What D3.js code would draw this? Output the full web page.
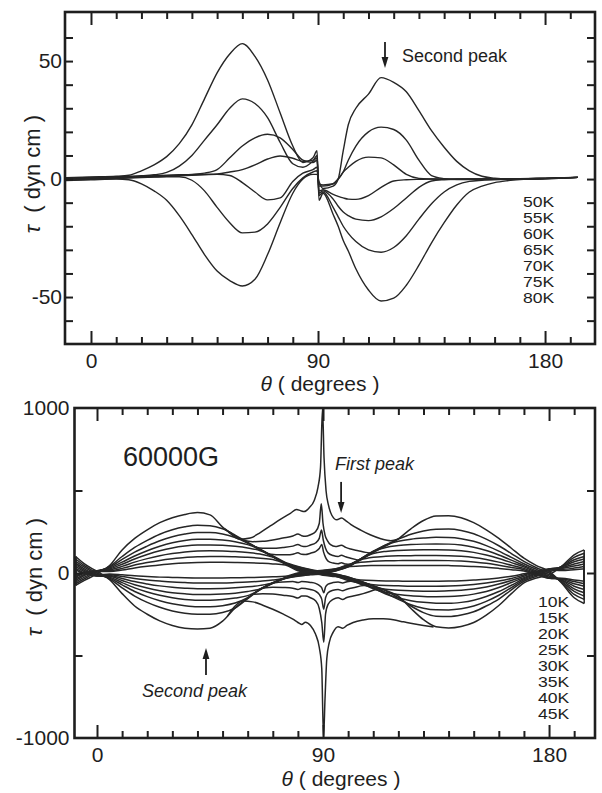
<!DOCTYPE html>
<html>
<head>
<meta charset="utf-8">
<script src="https://cdn.jsdelivr.net/npm/d3@7"></script>
<style>
  html, body { margin: 0; padding: 0; background: #ffffff; }
  svg { display: block; }
</style>
</head>
<body>
<svg id="chart" width="602" height="793"></svg>
<script>
// ================= DATA =================
// ---- top panel (torque curves, 50K-80K) ----
const topTemps = ["50K", "55K", "60K", "65K", "70K", "75K", "80K"];
const topTheta = [-10, 0, 10, 15, 20, 25, 30, 35, 40, 45, 50, 55, 60, 65, 70, 75, 80, 84, 88, 89.6,
                  90.4, 92, 96, 98, 100, 102, 105, 110, 115, 120, 125, 130, 135, 140, 145, 150, 155, 160, 165, 170,
                  180, 193];
const topTau = [
  [0.6, 0.9, 1.2, 1.6, 3.5, 6, 9.5, 15, 23, 34, 45, 53, 57.4, 52, 42, 28, 14, 7, 9, 12,
   -9, -6, -15, -20, -26, -30.5, -38, -47, -51.7, -50.5, -45, -36.5, -27, -18.5, -11, -5.5, -3, -1.5, -0.7, -0.2, 0.3, 0.7],
  [0.4, 0.7, 1.0, 1.2, 1.4, 1.8, 2.8, 5.5, 10, 16.5, 23, 30, 34, 32, 26, 15.5, 6.5, 5, 7.5, 9,
   -7, -5.5, -12, -16, -20, -23, -26.5, -30, -31, -29, -24, -17, -10.5, -5.5, -2.5, -1, -0.5, -0.2, 0, 0.1, 0.3, 0.7],
  [0.2, 0.5, 0.8, 1.0, 1.2, 1.4, 1.6, 1.8, 2.0, 2.5, 4, 9, 14, 17.5, 19, 17.5, 12.5, 8, 7, 8,
   -6, -5, -8.5, -11.5, -14, -15.5, -17, -17.6, -16, -12.5, -8, -3.5, -0.8, -0.3, -0.1, 0, 0, 0, 0.1, 0.2, 0.4, 0.7],
  [0, 0.3, 0.6, 0.8, 1.0, 1.2, 1.4, 1.6, 1.8, 2.0, 2.2, 3, 4, 6, 8.5, 9.8, 8.8, 7.5, 8, 10,
   -5, -4.5, -6.5, -7.3, -8, -8.5, -8.6, -7, -3.5, -0.8, -0.3, -0.1, 0, 0, 0, 0, 0, 0, 0, 0.1, 0.3, 0.7],
  [-0.2, 0.1, 0.4, 0.6, 0.8, 1.0, 1.2, 1.4, 1.6, 1.8, 2.0, 1.5, -1.5, -5.5, -8.8, -8, -1, 2.5, 4, 5,
   -3, -3, -2, 0, 3, 5, 7.5, 9.3, 9, 6, 2, 0.3, 0, -0.1, -0.1, -0.1, -0.1, -0.1, -0.1, 0, 0.2, 0.7],
  [-0.4, -0.1, 0.2, 0.4, 0.6, 0.8, 1.0, 1.0, -0.5, -5, -12, -18.5, -22.8, -22.5, -19, -12, -4, 0.5, 3, 3.5,
   -2, -2.5, -2, 0, 3, 8, 14, 20, 22, 21, 16.5, 8, 1.5, 0.2, -0.2, -0.2, -0.2, -0.2, -0.2, -0.1, 0.1, 0.7],
  [-0.6, -0.3, 0, -0.3, -2, -5, -9, -15.5, -23.5, -32, -39, -43, -45.3, -42.5, -32, -18.5, -6, 0, 2, 2,
   -1, -4, -3, 0, 12, 23, 30, 36, 43, 41, 37, 29, 20.5, 13.5, 7.5, 3.5, 1.2, 0.4, 0, -0.1, 0.1, 0.7]
];

// ---- bottom panel (60000G, 10K-45K) ----
const bottomTemps = ["10K", "15K", "20K", "25K", "30K", "35K", "40K", "45K"];
const bottomTheta = [-8.5, -5, 0, 5, 10, 15, 20, 25, 30, 35, 40, 45, 50, 55, 60, 65, 70, 75, 80, 85,
                     90, 95, 100, 105, 110, 115, 120, 125, 130, 135, 140, 145, 150, 155, 160, 165, 170, 175, 180, 185,
                     190, 194];
// sweep with the positive lobe on the left
const bottomBackward = [
  [-75, -45, -5, 45, 140, 210, 262, 305, 335, 355, 366, 352, 278, 225, 183, 143, 104, 64, 40, 22,
   8, -6, -24, -50, -77, -105, -140, -215, -283, -326, -333, -324, -300, -255, -197, -125, -60, -30, -10, 40, 110, 140],
  [-65, -35, 5, 40, 100, 155, 198, 235, 262, 280, 290, 287, 268, 230, 185, 143, 101, 61, 36, 19,
   5, -8, -26, -51, -78, -108, -150, -200, -240, -262, -264, -255, -235, -200, -158, -102, -50, -20, 5, 40, 95, 120],
  [-55, -25, 10, 35, 82, 127, 163, 195, 220, 236, 245, 245, 236, 215, 182, 141, 99, 58, 32, 16,
   2, -10, -28, -52, -80, -120, -160, -192, -213, -223, -224, -217, -200, -172, -135, -88, -42, -12, 15, 38, 80, 100],
  [-45, -15, 12, 30, 66, 103, 135, 162, 183, 197, 204, 205, 200, 190, 172, 142, 99, 56, 29, 13,
   -1, -12, -30, -55, -90, -127, -152, -168, -178, -183, -184, -178, -165, -142, -112, -74, -35, -5, 22, 36, 68, 85],
  [-35, -8, 14, 25, 53, 85, 112, 135, 152, 163, 169, 170, 168, 162, 152, 135, 100, 57, 26, 10,
   -4, -14, -32, -60, -95, -118, -130, -138, -142, -144, -143, -138, -128, -112, -88, -58, -28, 0, 25, 32, 55, 70],
  [-25, -2, 14, 20, 40, 66, 87, 105, 118, 128, 133, 135, 134, 130, 124, 115, 96, 55, 22, 7,
   -7, -16, -38, -68, -88, -98, -104, -108, -110, -110, -108, -104, -97, -85, -67, -45, -20, 5, 25, 28, 42, 55],
  [-18, 3, 12, 14, 28, 48, 63, 76, 86, 94, 98, 100, 100, 98, 95, 90, 82, 56, 18, 4,
   -10, -20, -45, -62, -71, -76, -78, -80, -80, -80, -79, -76, -70, -61, -49, -33, -12, 8, 22, 22, 30, 40],
  [-10, 5, 10, 9, 18, 31, 41, 49, 56, 61, 64, 65, 65, 64, 62, 59, 55, 48, 14, 1,
   -13, -22, -35, -42, -46, -48, -49, -50, -50, -50, -49, -47, -43, -38, -30, -20, -5, 10, 18, 15, 20, 25]
];
// sweep with the negative lobe on the left
const bottomForward = [
  [100, 55, 10, -40, -125, -200, -250, -290, -318, -335, -340, -335, -292, -212, -152, -100, -62, -34, -20, -11,
   -4, 12, 37, 80, 124, 165, 207, 268, 318, 345, 347, 335, 305, 262, 210, 150, 90, 45, 10, -60, -150, -185],
  [85, 45, 0, -35, -90, -140, -178, -208, -230, -244, -250, -250, -240, -212, -155, -98, -60, -32, -17, -8,
   -1, 14, 39, 84, 128, 170, 205, 235, 255, 265, 266, 258, 238, 205, 165, 118, 70, 32, 0, -55, -130, -160],
  [70, 35, -8, -30, -72, -112, -143, -168, -187, -199, -205, -205, -198, -182, -150, -97, -58, -30, -14, -5,
   2, 16, 41, 86, 132, 170, 192, 205, 212, 216, 215, 208, 192, 166, 133, 95, 56, 22, -10, -50, -112, -140],
  [60, 25, -14, -25, -58, -90, -115, -135, -150, -160, -165, -165, -161, -152, -137, -100, -60, -29, -12, -2,
   5, 18, 43, 86, 130, 155, 166, 172, 175, 176, 175, 169, 156, 136, 109, 78, 45, 12, -18, -45, -96, -120],
  [50, 16, -18, -20, -45, -71, -91, -107, -119, -126, -130, -130, -128, -122, -112, -96, -62, -28, -9, 1,
   8, 20, 45, 86, 118, 131, 137, 140, 141, 141, 140, 135, 125, 109, 88, 63, 37, 5, -25, -42, -80, -100],
  [40, 8, -18, -15, -33, -52, -66, -78, -87, -92, -95, -95, -94, -90, -84, -75, -60, -31, -6, 4,
   11, 22, 48, 80, 95, 101, 104, 105, 106, 106, 105, 101, 94, 82, 66, 47, 28, -2, -30, -38, -65, -80],
  [30, 0, -15, -10, -21, -33, -42, -49, -55, -58, -60, -60, -60, -58, -55, -50, -43, -30, -3, 7,
   14, 24, 50, 65, 71, 74, 75, 76, 76, 76, 75, 72, 67, 59, 47, 34, 20, -8, -32, -35, -52, -65],
  [20, -5, -12, -6, -11, -17, -21, -25, -27, -29, -30, -30, -30, -29, -28, -26, -23, -19, 0, 10,
   17, 26, 38, 43, 45, 46, 46, 46, 46, 46, 45, 43, 40, 35, 28, 20, 12, -12, -30, -32, -42, -50]
];
// central branches around the hard axis (spikes at 90 deg, first peak)
const centerTheta = [
  [51, 54, 57, 61, 65, 69, 73, 77, 79.5, 81, 82.5, 84.5, 86.5, 88, 89, 89.8, 90.4, 91.2, 92.2, 93.5, 95.5, 97.4, 99, 101, 105, 109, 113, 117, 120],
  [58, 62, 66, 70, 74, 78, 80, 81.5, 83, 85, 87, 88.5, 89.3, 90, 90.8, 91.8, 93, 95, 97.3, 99, 101, 104, 107, 109],
  [63, 66, 70, 74, 78, 80, 81.5, 83, 85, 87, 88.5, 89.4, 90.1, 91, 92, 94, 96, 97.3, 99, 101, 104],
  [68, 72, 76, 78, 80, 81.5, 83, 85, 87, 88.5, 89.5, 90.2, 91, 92, 94, 96, 97.3, 99, 101],
  [70, 74, 78, 80, 81.5, 83, 85, 87, 88.5, 89.5, 90.3, 91, 92, 94, 96, 97.8, 99.5, 102, 104],
  [66, 70, 74, 78, 80, 81.5, 83, 85, 87, 88.5, 89.5, 90.3, 91, 92, 94, 96, 97.8, 99.5, 102, 105, 108],
  [62, 66, 70, 74, 78, 80, 81.5, 83, 85, 87, 88.5, 89.5, 90.3, 91, 92, 94, 96, 97.8, 99.5, 102, 106, 110, 112],
  [52, 55, 58, 62, 66, 70, 74, 78, 80, 81.5, 83, 85, 87, 88.5, 89.5, 90.2, 90.8, 91.5, 92.5, 94, 96, 97.8, 99.5, 102, 106, 110, 114, 118, 122, 126, 130, 134]
];
const centerTau = [
  [268, 228, 205, 212, 245, 285, 325, 362, 385, 378, 372, 395, 440, 520, 640, 1000, 700, 500, 410, 350, 322, 333, 318, 295, 260, 230, 208, 196, 207],
  [200, 190, 192, 200, 212, 224, 236, 226, 222, 232, 250, 300, 420, 300, 230, 195, 172, 160, 168, 155, 145, 135, 125, 120],
  [158, 150, 150, 155, 163, 173, 163, 160, 170, 182, 210, 260, 200, 150, 122, 106, 100, 108, 98, 90, 78],
  [117, 110, 110, 114, 122, 113, 112, 120, 130, 148, 172, 128, 95, 72, 60, 56, 62, 54, 52],
  [-60, -54, -52, -58, -52, -53, -57, -63, -75, -90, -120, -85, -68, -58, -55, -60, -53, -48, -48],
  [-92, -86, -88, -92, -100, -92, -94, -100, -110, -130, -160, -220, -150, -120, -105, -100, -107, -98, -90, -78, -72],
  [-130, -125, -128, -135, -142, -152, -140, -140, -150, -168, -215, -300, -420, -250, -190, -160, -150, -160, -148, -140, -125, -105, -95],
  [-260, -200, -170, -175, -195, -220, -248, -280, -300, -312, -298, -318, -370, -450, -580, -1000, -760, -520, -420, -360, -325, -335, -318, -300, -285, -278, -278, -284, -296, -308, -318, -327]
];

// ---- axes ----
const xTicks = [0, 10, 20, 30, 40, 50, 60, 70, 80, 90, 100, 110, 120, 130, 140, 150, 160, 170, 180, 190];
const xLabels = [0, 90, 180];
const topYTicks = [-60, -50, -40, -30, -20, -10, 0, 10, 20, 30, 40, 50, 60];
const topYLabels = [-50, 0, 50];
const bottomYTicks = [-500, 0, 500];
const bottomYLabels = [-1000, 0, 1000];

// ================= DRAWING =================
const svg = d3.select("#chart");
const FONT = '"Liberation Sans", Arial, Helvetica, sans-serif';
const INK = "#1e1e1e";
const LINE = "#262626";

svg.append("rect").attr("width", 602).attr("height", 793).attr("fill", "#ffffff");

function makePanel(id, box, xDomain, yDomain) {
  const x = d3.scaleLinear().domain(xDomain).range([box.left, box.right]);
  const y = d3.scaleLinear().domain(yDomain).range([box.bottom, box.top]);
  const g = svg.append("g").attr("id", id);
  g.append("clipPath").attr("id", id + "-clip").append("rect")
    .attr("x", box.left).attr("y", box.top)
    .attr("width", box.right - box.left).attr("height", box.bottom - box.top);
  const plot = g.append("g").attr("clip-path", `url(#${id}-clip)`);
  return { x, y, g, plot, box };
}

function styleAxis(sel, size) {
  sel.select(".domain").remove();
  sel.selectAll(".tick line").attr("stroke", INK).attr("stroke-width", 2);
  sel.attr("font-family", FONT).attr("font-size", size);
  sel.selectAll(".tick text").attr("fill", INK);
}

function drawAxes(p, yTicks, yLabels, opts) {
  const { x, y, g, box } = p;
  const minorX = xTicks.filter(v => !xLabels.includes(v));
  const fmt = d => String(d);
  g.append("g").attr("transform", `translate(0,${box.bottom})`)
    .call(d3.axisBottom(x).tickValues(minorX).tickSize(-7).tickFormat(""))
    .call(s => styleAxis(s, opts.size));
  g.append("g").attr("transform", `translate(0,${box.bottom})`)
    .call(d3.axisBottom(x).tickValues(xLabels).tickSize(-13).tickPadding(opts.xPad).tickFormat(fmt))
    .call(s => styleAxis(s, opts.size));
  g.append("g").attr("transform", `translate(0,${box.top})`)
    .call(d3.axisTop(x).tickValues(minorX).tickSize(-7).tickFormat(""))
    .call(s => styleAxis(s, opts.size));
  g.append("g").attr("transform", `translate(0,${box.top})`)
    .call(d3.axisTop(x).tickValues(xLabels).tickSize(-13).tickFormat(""))
    .call(s => styleAxis(s, opts.size));
  g.append("g").attr("transform", `translate(${box.left},0)`)
    .call(d3.axisLeft(y).tickValues(yTicks).tickSize(-8).tickFormat(""))
    .call(s => styleAxis(s, opts.size));
  g.append("g").attr("transform", `translate(${box.left},0)`)
    .call(d3.axisLeft(y).tickValues(yLabels).tickSize(0).tickPadding(opts.yPad).tickFormat(fmt))
    .call(s => styleAxis(s, opts.size));
  g.append("g").attr("transform", `translate(${box.right},0)`)
    .call(d3.axisRight(y).tickValues(yTicks).tickSize(-8).tickFormat(""))
    .call(s => styleAxis(s, opts.size));
  g.append("rect")
    .attr("x", box.left).attr("y", box.top)
    .attr("width", box.right - box.left).attr("height", box.bottom - box.top)
    .attr("fill", "none").attr("stroke", INK).attr("stroke-width", 2.6);
}

function xTitle(g, cx, baseline) {
  const t = g.append("text").attr("x", cx).attr("y", baseline)
    .attr("text-anchor", "middle").attr("font-family", FONT).attr("font-size", 21).attr("fill", INK)
    .style("white-space", "pre");
  t.append("tspan").attr("font-style", "italic").text("θ");
  t.append("tspan").text(" ( degrees )");
}
function yTitle(g, bx, cy) {
  const t = g.append("text").attr("transform", `translate(${bx},${cy}) rotate(-90)`)
    .attr("text-anchor", "middle").attr("font-family", FONT).attr("font-size", 22).attr("fill", INK)
    .style("white-space", "pre");
  t.append("tspan").attr("font-style", "italic").text("τ");
  t.append("tspan").text("  ( dyn cm )");
}
function arrow(g, x, yTail, yTip) {
  const dir = Math.sign(yTip - yTail);
  const headLen = 11, headW = 3.4;
  g.append("line").attr("x1", x).attr("x2", x).attr("y1", yTail).attr("y2", yTip - dir * headLen * 0.7)
    .attr("stroke", INK).attr("stroke-width", 1.8);
  g.append("path")
    .attr("d", `M${x},${yTip} L${x - headW},${yTip - dir * headLen} L${x + headW},${yTip - dir * headLen} Z`)
    .attr("fill", INK);
}
// legend: one small text per label, slightly condensed vertically so rows don't collide
function legend(g, x, y0, step, labels) {
  const lg = g.append("g");
  lg.selectAll("text").data(labels).join("text")
    .attr("transform", (d, i) => `translate(${x},${y0 + i * step}) scale(1.1,0.86)`)
    .attr("dy", "0.36em")
    .attr("font-family", FONT).attr("font-size", 16).attr("fill", INK)
    .text(d => d);
}

// ---------- TOP PANEL ----------
const topP = makePanel("top", { left: 65, right: 595, top: 12, bottom: 344 }, [-10.3, 199.8], [-69.9, 70.8]);
const topLine = d3.line().x(d => topP.x(d[0])).y(d => topP.y(d[1])).curve(d3.curveMonotoneX);
topP.plot.selectAll("path.curve").data(topTau).join("path").attr("class", "curve")
  .attr("d", row => topLine(row.map((v, j) => [topTheta[j], v])))
  .attr("fill", "none").attr("stroke", LINE).attr("stroke-width", 1.4).attr("stroke-linejoin", "round");
drawAxes(topP, topYTicks, topYLabels, { size: 21, xPad: 9, yPad: 3 });
xTitle(topP.g, 320, 391);
yTitle(topP.g, 40, 174);
// annotation "Second peak"
arrow(topP.g, topP.x(116.55), topP.y(58.1), topP.y(47.1));
topP.g.append("text").attr("x", topP.x(123.3)).attr("y", topP.y(49.6))
  .attr("font-family", FONT).attr("font-size", 18).attr("fill", INK).text("Second peak");
legend(topP.g, 523, 202, 16, topTemps);

// ---------- BOTTOM PANEL ----------
const botP = makePanel("bottom", { left: 74.5, right: 595, top: 408, bottom: 738 }, [-8.96, 198.3], [-1000, 1000]);
const botLine = d3.line().x(d => botP.x(d[0])).y(d => botP.y(d[1])).curve(d3.curveMonotoneX);
const sweepStyle = s => s.attr("fill", "none").attr("stroke", LINE).attr("stroke-width", 1.5).attr("stroke-linejoin", "round");
botP.plot.append("g").selectAll("path").data(bottomBackward).join("path")
  .attr("d", row => botLine(row.map((v, j) => [bottomTheta[j], v]))).call(sweepStyle);
botP.plot.append("g").selectAll("path").data(bottomForward).join("path")
  .attr("d", row => botLine(row.map((v, j) => [bottomTheta[j], v]))).call(sweepStyle);
// reversal segments at both ends of each sweep
const lastJ = bottomTheta.length - 1;
botP.plot.append("g").selectAll("line").data(d3.range(bottomTemps.length)).join("line")
  .attr("x1", botP.x(bottomTheta[lastJ])).attr("x2", botP.x(bottomTheta[lastJ]))
  .attr("y1", i => botP.y(bottomForward[i][lastJ])).attr("y2", i => botP.y(bottomBackward[i][lastJ]))
  .attr("stroke", LINE).attr("stroke-width", 1.5);
botP.plot.append("g").selectAll("line").data(d3.range(bottomTemps.length)).join("line")
  .attr("x1", botP.x(bottomTheta[0])).attr("x2", botP.x(bottomTheta[0]))
  .attr("y1", i => botP.y(bottomForward[i][0])).attr("y2", i => botP.y(bottomBackward[i][0]))
  .attr("stroke", LINE).attr("stroke-width", 2.5);
botP.plot.append("g").selectAll("path").data(centerTau).join("path")
  .attr("d", (row, i) => botLine(row.map((v, j) => [centerTheta[i][j], v]))).call(sweepStyle);
drawAxes(botP, bottomYTicks, bottomYLabels, { size: 21, xPad: 9, yPad: 5 });
xTitle(botP.g, 341, 786);
yTitle(botP.g, 42, 577);
botP.g.append("text").attr("x", botP.x(10.35)).attr("y", botP.y(648))
  .attr("font-family", FONT).attr("font-size", 27).attr("fill", INK).text("60000G");
botP.g.append("text").attr("x", botP.x(94.8)).attr("y", botP.y(624))
  .attr("font-family", FONT).attr("font-size", 18).attr("font-style", "italic").attr("fill", INK).text("First peak");
arrow(botP.g, botP.x(97.2), botP.y(552), botP.y(364));
botP.g.append("text").attr("x", botP.x(17.9)).attr("y", botP.y(-752))
  .attr("font-family", FONT).attr("font-size", 18).attr("font-style", "italic").attr("fill", INK).text("Second peak");
arrow(botP.g, botP.x(43.4), botP.y(-618), botP.y(-455));
legend(botP.g, 538, 602, 15.94, bottomTemps);
</script>
</body>
</html>
